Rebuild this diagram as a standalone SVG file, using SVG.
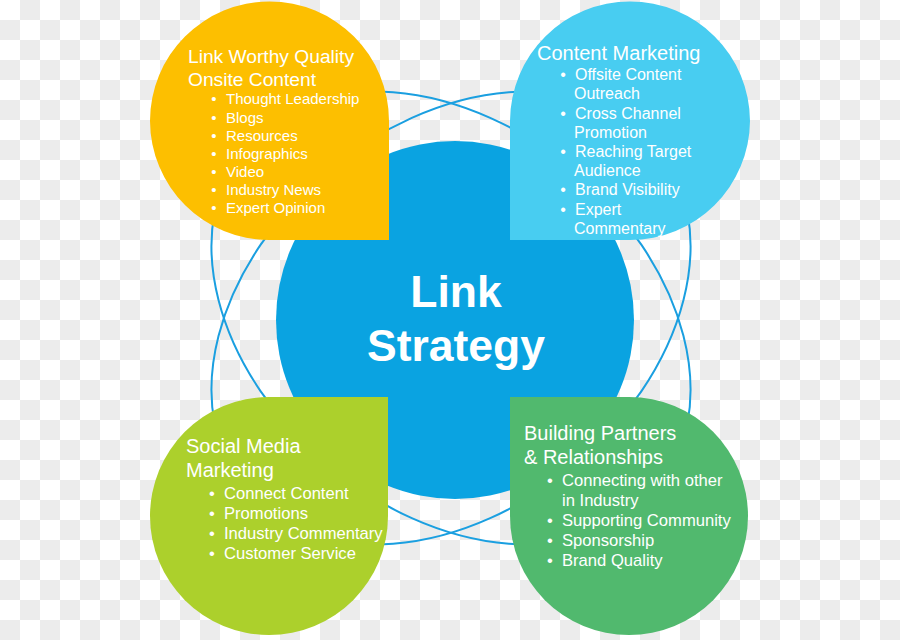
<svg xmlns="http://www.w3.org/2000/svg" width="900" height="640" viewBox="0 0 900 640">
<defs>
<pattern id="checker" width="40" height="40" patternUnits="userSpaceOnUse">
<rect width="40" height="40" fill="#ffffff"/>
<rect x="20" y="0" width="20" height="20" fill="#ececec"/>
<rect x="0" y="20" width="20" height="20" fill="#ececec"/>
</pattern>
<style>
.t{font-family:"Liberation Sans",Arial,sans-serif;fill:#ffffff;}
.ring{fill:none;stroke:#1a9fe0;stroke-width:2;}
.center-txt{font-family:"Liberation Sans",Arial,sans-serif;fill:#ffffff;font-weight:bold;font-size:44.5px;text-anchor:middle;}
.bul{text-anchor:middle;}
</style>
</defs>
<rect width="900" height="640" fill="url(#checker)"/>

<g id="rings">
<ellipse class="ring" cx="451" cy="318" rx="268" ry="192" transform="rotate(40 451 318)"/>
<ellipse class="ring" cx="451" cy="318" rx="268" ry="192" transform="rotate(-40 451 318)"/>
</g>

<g id="link-strategy">
<circle cx="455" cy="320" r="179" fill="#0aa3e1"/>
<text class="center-txt" x="456" y="307">Link</text>
<text class="center-txt" x="456" y="361">Strategy</text>
</g>

<g id="onsite-content">
<path d="M150,121 A119.5,119.5 0 0 1 269.5,1.5 A119.5,119.5 0 0 1 389,121 L389,240 L269.5,240 A119.5,119.5 0 0 1 150,121 Z" fill="#fdbf00"/>
<g class="t" font-size="19.2">
<text x="188" y="63">Link Worthy Quality</text>
<text x="188" y="86">Onsite Content</text>
</g>
<g class="t" font-size="15">
<text x="226" y="104.3">Thought Leadership</text>
<text x="226" y="122.5">Blogs</text>
<text x="226" y="140.7">Resources</text>
<text x="226" y="158.8">Infographics</text>
<text x="226" y="177">Video</text>
<text x="226" y="195.2">Industry News</text>
<text x="226" y="213.4">Expert Opinion</text>
<text class="bul" x="214" y="104.3">•</text>
<text class="bul" x="214" y="122.5">•</text>
<text class="bul" x="214" y="140.7">•</text>
<text class="bul" x="214" y="158.8">•</text>
<text class="bul" x="214" y="177">•</text>
<text class="bul" x="214" y="195.2">•</text>
<text class="bul" x="214" y="213.4">•</text>
</g>
</g>

<g id="content-marketing">
<path d="M510,121 A120,120 0 0 1 630,1.5 A120,120 0 0 1 750,121 A120,120 0 0 1 630,240 L510,240 Z" fill="#48cdf1"/>
<text class="t" font-size="20" x="537" y="59.5">Content Marketing</text>
<g class="t" font-size="16">
<text x="575" y="80">Offsite Content</text>
<text x="574" y="99.2">Outreach</text>
<text x="575" y="118.5">Cross Channel</text>
<text x="574" y="137.7">Promotion</text>
<text x="575" y="156.9">Reaching Target</text>
<text x="574" y="176.1">Audience</text>
<text x="575" y="195.3">Brand Visibility</text>
<text x="575" y="214.5">Expert</text>
<text x="574" y="233.7">Commentary</text>
<text class="bul" x="563" y="80">•</text>
<text class="bul" x="563" y="118.5">•</text>
<text class="bul" x="563" y="156.9">•</text>
<text class="bul" x="563" y="195.3">•</text>
<text class="bul" x="563" y="214.5">•</text>
</g>
</g>

<g id="social-media-marketing">
<path d="M150,516 A119,119 0 0 1 269,397 L388,397 L388,516 A119,119 0 0 1 269,635 A119,119 0 0 1 150,516 Z" fill="#acd02c"/>
<g class="t" font-size="20">
<text x="186" y="453.3">Social Media</text>
<text x="186" y="477.3">Marketing</text>
</g>
<g class="t" font-size="16.6">
<text x="224" y="499">Connect Content</text>
<text x="224" y="519.1">Promotions</text>
<text x="224" y="539.2">Industry Commentary</text>
<text x="224" y="559.3">Customer Service</text>
<text class="bul" x="212" y="499">•</text>
<text class="bul" x="212" y="519.1">•</text>
<text class="bul" x="212" y="539.2">•</text>
<text class="bul" x="212" y="559.3">•</text>
</g>
</g>

<g id="building-partners">
<path d="M510,397 L629,397 A119,119 0 0 1 748,516 A119,119 0 0 1 629,635 A119,119 0 0 1 510,516 Z" fill="#51b96e"/>
<g class="t" font-size="20">
<text x="524" y="440">Building Partners</text>
<text x="524" y="464">&amp; Relationships</text>
</g>
<g class="t" font-size="16.6">
<text x="562" y="486">Connecting with other</text>
<text x="562" y="506">in Industry</text>
<text x="562" y="526">Supporting Community</text>
<text x="562" y="546">Sponsorship</text>
<text x="562" y="566">Brand Quality</text>
<text class="bul" x="550" y="486">•</text>
<text class="bul" x="550" y="526">•</text>
<text class="bul" x="550" y="546">•</text>
<text class="bul" x="550" y="566">•</text>
</g>
</g>
</svg>
